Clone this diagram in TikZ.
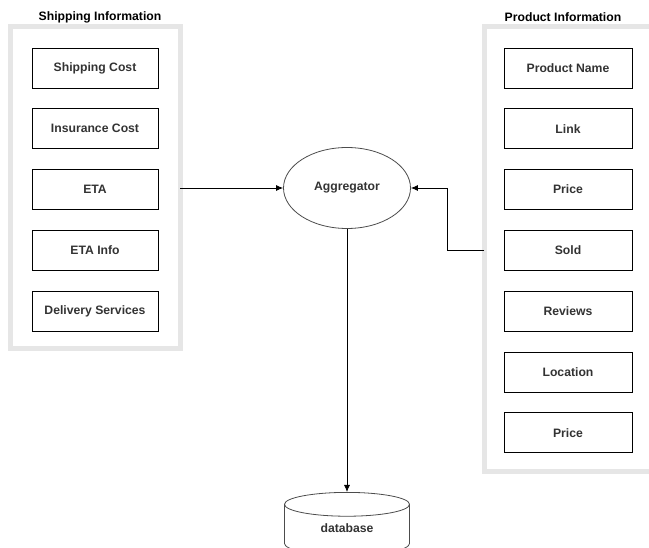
\documentclass[tikz,border=0pt]{standalone}
\usepackage{fontspec}
\setmainfont{Liberation Sans}
\usetikzlibrary{positioning}
\usetikzlibrary{shapes.geometric}
\usetikzlibrary{arrows.meta}

\definecolor{txtgray}{HTML}{333333}
\definecolor{framegray}{HTML}{E6E6E6}

\tikzset{
  field/.style={draw, line width=0.8pt, minimum width=126pt, minimum height=40pt,
    inner sep=0pt, font=\bfseries\fontsize{12.2}{14}\selectfont, text=txtgray},
  frame/.style={draw=framegray, line width=5pt},
  title/.style={font=\bfseries\fontsize{12.2}{14}\selectfont, text=black},
  link/.style={line width=0.8pt, -{Latex[length=7pt,width=6pt]}}
}

\begin{document}
\begin{tikzpicture}[x=1pt,y=-1pt]
		\useasboundingbox (0,0) rectangle (649,548);
		\clip (0,0) rectangle (649,548);
		% containers
		\draw[frame] (10,27) rectangle (180,349);
		\draw[frame] (484,27) rectangle (660,472);
		\node[title] (shiptitle) at (100,17) {Shipping Information};
		\node[title] (prodtitle) at (563,17) {Product Information};
		% shipping fields
		\node[field] (scost) at (95,68) {Shipping Cost};
		\node[field,below=20pt of scost] (icost) {Insurance Cost};
		\node[field,below=20pt of icost] (eta) {ETA};
		\node[field,below=20pt of eta] (etainfo) {ETA Info};
		\node[field,below=20pt of etainfo] (deliv) {Delivery Services};
		% product fields
		\node[field,minimum width=128pt] (pname) at (568,68) {Product Name};
		\node[field,minimum width=128pt,below=20pt of pname] (plink) {Link};
		\node[field,minimum width=128pt,below=20pt of plink] (pprice) {Price};
		\node[field,minimum width=128pt,below=20pt of pprice] (psold) {Sold};
		\node[field,minimum width=128pt,below=20pt of psold] (prev) {Reviews};
		\node[field,minimum width=128pt,below=20pt of prev] (ploc) {Location};
		\node[field,minimum width=128pt,below=20pt of ploc] (pprice2) {Price};
		% aggregator and store
		\node[ellipse, draw=black!70, line width=0.8pt, minimum width=127pt, minimum height=81pt,
		  font=\bfseries\fontsize{12.2}{14}\selectfont, text=txtgray] (agg) at (347,188) {Aggregator};
		\node[cylinder, shape border rotate=90, draw=black!70, line width=0.8pt, aspect=0.4,
		  minimum width=125pt, minimum height=63pt, font=\bfseries\fontsize{12.2}{14}\selectfont,
		  text=txtgray, anchor=top] (db) at (347,492) {\raisebox{8pt}{database}};
		% connectors
		\coordinate (shipout) at (180,188);
		\coordinate (prodout) at (484,250);
		\draw[link] (shipout) -- (agg.west);
		\draw[link] (prodout) -- (447,250) |- (agg.east);
		\draw[link] (agg.south) -- (db.top);
	   \end{tikzpicture}
\end{document}
